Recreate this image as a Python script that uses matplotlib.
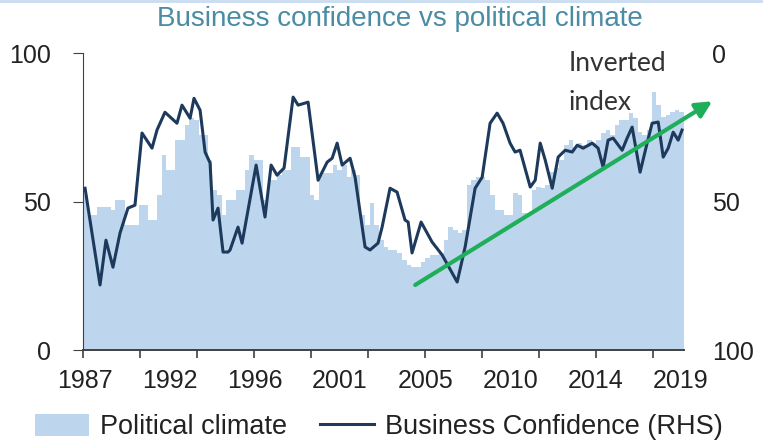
import numpy as np
import matplotlib
matplotlib.use("Agg")
import matplotlib.pyplot as plt
from matplotlib.patches import Patch
from matplotlib.lines import Line2D

plt.rcParams['font.family'] = ['Liberation Sans', 'DejaVu Sans']

# --- political climate index (quarterly, 1987Q1 onwards) ---
political_climate = [
    52.2, 45.5, 45.5, 48.1, 48.1, 48.1, 47.1, 50.5, 50.5, 42.1,
    42.1, 42.1, 48.8, 48.8, 43.8, 43.8, 52.2, 65.7, 60.6, 60.6,
    70.7, 70.7, 75.8, 78.1, 77.4, 72.4, 72.4, 64.0, 53.9, 52.2,
    45.5, 50.5, 50.5, 53.9, 53.9, 60.6, 65.7, 64.0, 64.0, 50.5,
    57.2, 57.2, 58.9, 60.6, 60.6, 68.4, 68.4, 65.0, 65.0, 52.2,
    50.5, 58.9, 59.6, 59.6, 62.3, 60.6, 62.3, 58.2, 60.6, 58.9,
    45.5, 42.1, 49.5, 42.1, 37.0, 34.7, 33.7, 33.7, 32.7, 30.3,
    28.6, 27.9, 27.9, 29.6, 31.0, 32.0, 32.0, 32.7, 37.0, 41.4,
    40.4, 39.4, 40.4, 55.6, 57.2, 58.2, 58.2, 57.2, 52.2, 47.1,
    47.1, 45.5, 45.5, 52.9, 52.2, 46.1, 46.1, 53.9, 54.9, 54.5,
    55.6, 59.9, 61.3, 63.9, 69.0, 70.7, 68.4, 69.7, 69.0, 70.7,
    69.7, 70.7, 73.1, 74.1, 72.4, 75.8, 77.4, 77.4, 79.8, 78.1,
    73.4, 72.4, 74.1, 86.9, 82.5, 78.5, 79.1, 80.1, 80.8, 80.1,
]
pc_dates = 1987 + 0.25 * np.arange(len(political_climate))

# --- business confidence, inverted scale (RHS) ---
bc_dates = [
    1987.11, 1987.92, 1988.24, 1988.62, 1989.00, 1989.43, 1989.81, 1990.19, 1990.73, 1991.00,
    1991.43, 1992.08, 1992.35, 1992.79, 1993.00, 1993.33, 1993.60, 1993.87, 1994.03, 1994.30,
    1994.57, 1994.84, 1994.95, 1995.38, 1995.60, 1996.36, 1996.84, 1997.17, 1997.49, 1997.87,
    1998.36, 1998.63, 1999.17, 1999.71, 2000.20, 2000.47, 2000.74, 2001.01, 2001.44, 2001.71,
    2002.25, 2002.52, 2002.95, 2003.17, 2003.60, 2003.98, 2004.41, 2004.58, 2004.79, 2005.28,
    2005.87, 2006.42, 2007.23, 2007.66, 2008.20, 2008.58, 2009.01, 2009.39, 2009.71, 2010.09,
    2010.36, 2010.63, 2011.18, 2011.45, 2011.72, 2011.99, 2012.37, 2012.69, 2013.07, 2013.45,
    2013.72, 2014.04, 2014.53, 2014.85, 2015.12, 2015.39, 2015.66, 2016.15, 2016.42, 2016.69,
    2017.12, 2017.50, 2017.77, 2018.10, 2018.37, 2018.64, 2018.91, 2019.18, 2019.39,
]
business_confidence = [
    45.5, 78.1, 63.0, 72.1, 60.6, 52.2, 51.2, 26.9, 32.0, 25.9,
    19.9, 23.6, 17.5, 21.9, 15.2, 19.2, 33.3, 37.0, 56.2, 52.2,
    67.0, 67.0, 66.3, 58.6, 64.0, 37.7, 55.2, 37.7, 41.1, 38.7,
    14.8, 17.5, 16.5, 42.8, 36.7, 35.4, 30.3, 37.7, 35.4, 41.8,
    65.3, 66.3, 64.0, 58.6, 45.5, 46.8, 56.2, 56.9, 67.3, 56.9,
    63.6, 68.0, 77.1, 65.3, 45.5, 41.8, 23.6, 20.2, 23.6, 30.3,
    33.3, 32.7, 45.1, 42.8, 30.3, 36.0, 45.5, 35.0, 32.7, 33.3,
    31.0, 32.0, 30.3, 32.0, 38.4, 29.3, 28.6, 32.7, 28.6, 24.9,
    40.1, 30.3, 23.6, 23.2, 35.0, 32.0, 26.6, 29.3, 25.9,
]

# trend arrow end points (date, RHS value)
trend_start = (2004.96, 78.1)
trend_end = (2021.02, 16.2)

year_labels = ['1987', '1992', '1996', '2001', '2005', '2010', '2014', '2019']

fig = plt.figure(figsize=(7.73, 4.47), dpi=100)
ax = fig.add_axes([0.1074, 0.217, 0.7776, 0.664])

ax.bar(pc_dates, political_climate, width=0.25, align='edge',
       color='#bdd6ee', edgecolor='none', zorder=1)
ax.set_xlim(1987, 2019.5)
ax.set_ylim(0, 100)

for side in ['top', 'right']:
    ax.spines[side].set_visible(False)
ax.spines['left'].set_color('#404040')
ax.spines['bottom'].set_color('#404040')
ax.spines['bottom'].set_linewidth(1.4)

ax.set_yticks([0, 50, 100])
ax.tick_params(axis='y', length=7, color='#404040', labelsize=18, labelcolor='#222222', pad=16)

# x labels sit between the tick marks, so marks and labels are set apart
ax.set_xticks(1987.1 + 4.6 * np.arange(len(year_labels)))
ax.set_xticklabels(year_labels)
ax.set_xticks(1987 + 3.08 * np.arange(11), minor=True)
ax.tick_params(axis='x', which='major', length=0, labelsize=18, labelcolor='#222222', pad=14)
ax.tick_params(axis='x', which='minor', length=6, color='#404040', width=1.2)

ax2 = ax.twinx()
ax2.set_ylim(100, 0)
ax2.set_xlim(1987, 2019.5)
for side in ['top', 'right', 'left', 'bottom']:
    ax2.spines[side].set_visible(False)
ax2.set_yticks([0, 50, 100])
ax2.tick_params(axis='y', length=0, labelsize=18, labelcolor='#222222', pad=20)

ax2.plot(bc_dates, business_confidence, color='#1d3a5c', lw=2.2, zorder=3)

ax2.annotate('', xy=trend_end, xytext=trend_start, annotation_clip=False,
             arrowprops=dict(arrowstyle='-|>', color='#1fae5a', lw=3,
                             mutation_scale=24, shrinkA=0, shrinkB=0))

fig.text(0.736, 0.859, 'Inverted', fontsize=19, color='#333333',
         family=['Lato', 'DejaVu Sans'], ha='left', va='center')
fig.text(0.736, 0.770, 'index', fontsize=19, color='#333333',
         family=['Lato', 'DejaVu Sans'], ha='left', va='center')

fig.text(0.517, 0.958, 'Business confidence vs political climate',
         fontsize=20, color='#4a8ca4', ha='center', va='center')

# thin header rule along the top edge
fig.add_artist(Line2D([0.0, 0.985], [0.997, 0.997], transform=fig.transFigure,
                      color='#c9dcf0', lw=2))

handles = [Patch(facecolor='#bdd6ee', edgecolor='none'),
           Line2D([0], [0], color='#1d3a5c', lw=2.2)]
fig.legend(handles, ['Political climate', 'Business Confidence (RHS)'],
           loc='center', bbox_to_anchor=(0.49, 0.045), ncol=2, frameon=False,
           fontsize=19.5, handlelength=2.0, handleheight=0.9,
           columnspacing=1.2, handletextpad=0.4, labelcolor='#222222')

fig.savefig('out.png', dpi=100)
